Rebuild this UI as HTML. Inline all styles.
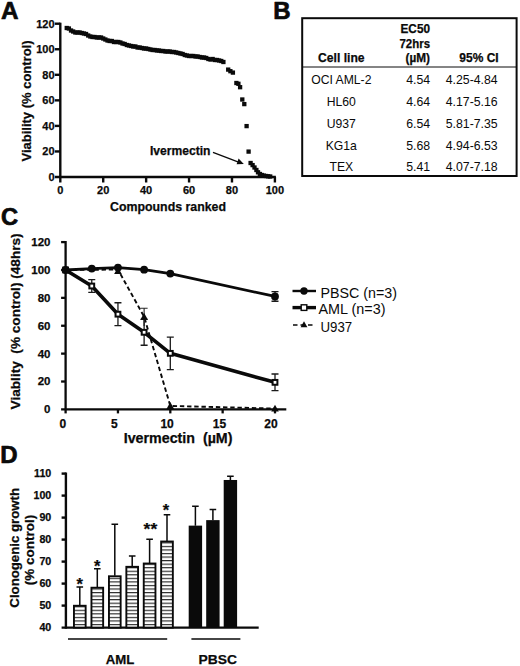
<!DOCTYPE html>
<html><head><meta charset="utf-8"><title>Figure</title>
<style>
html,body{margin:0;padding:0;background:#fff;}
body{width:520px;height:666px;overflow:hidden;}
svg{display:block;}
text{font-family:"Liberation Sans",sans-serif;fill:#0a0a0a;}
.b{font-weight:bold;stroke:#0a0a0a;stroke-width:0.25px;}
</style></head><body>
<svg width="520" height="666" viewBox="0 0 520 666">
<rect width="520" height="666" fill="#fff"/>
<text x="1.1" y="19.4" font-size="24.3" text-anchor="start" class="b" style="stroke-width:0.7px;stroke-linejoin:round">A</text>
<text x="273.3" y="18.7" font-size="24" text-anchor="start" class="b" style="stroke-width:0.7px;stroke-linejoin:round">B</text>
<text x="0.9" y="225.2" font-size="23.7" text-anchor="start" class="b" style="stroke-width:0.7px;stroke-linejoin:round">C</text>
<text x="0.3" y="462.8" font-size="24" text-anchor="start" class="b" style="stroke-width:0.7px;stroke-linejoin:round">D</text>
<g stroke="#0a0a0a" stroke-width="2.4" fill="none"><path d="M60.3 22.69999999999999 V182.5"/><path d="M54.8 177.0 H275.9"/><path d="M54.8 151.45 H60.3"/><path d="M54.8 125.90 H60.3"/><path d="M54.8 100.35 H60.3"/><path d="M54.8 74.80 H60.3"/><path d="M54.8 49.25 H60.3"/><path d="M54.8 23.70 H60.3"/><path d="M103.22 177.0 V182.5"/><path d="M146.14 177.0 V182.5"/><path d="M189.06 177.0 V182.5"/><path d="M231.98 177.0 V182.5"/><path d="M274.90 177.0 V182.5"/></g>
<text x="54.6" y="180.9" font-size="11" text-anchor="end" class="b" >0</text>
<text x="54.6" y="155.35" font-size="11" text-anchor="end" class="b" >20</text>
<text x="54.6" y="129.8" font-size="11" text-anchor="end" class="b" >40</text>
<text x="54.6" y="104.25" font-size="11" text-anchor="end" class="b" >60</text>
<text x="54.6" y="78.7" font-size="11" text-anchor="end" class="b" >80</text>
<text x="54.6" y="53.15" font-size="11" text-anchor="end" class="b" >100</text>
<text x="54.6" y="27.6" font-size="11" text-anchor="end" class="b" >120</text>
<text x="60.3" y="194.4" font-size="11" text-anchor="middle" class="b" >0</text>
<text x="103.22" y="194.4" font-size="11" text-anchor="middle" class="b" >20</text>
<text x="146.14" y="194.4" font-size="11" text-anchor="middle" class="b" >40</text>
<text x="189.06" y="194.4" font-size="11" text-anchor="middle" class="b" >60</text>
<text x="231.98" y="194.4" font-size="11" text-anchor="middle" class="b" >80</text>
<text x="274.9" y="194.4" font-size="11" text-anchor="middle" class="b" >100</text>
<text x="168" y="211.1" font-size="12.5" text-anchor="middle" class="b" textLength="116" lengthAdjust="spacingAndGlyphs" >Compounds ranked</text>
<text transform="translate(31.2,101) rotate(-90)" font-size="13" text-anchor="middle" class="b" textLength="121" lengthAdjust="spacingAndGlyphs">Viability (% control)</text>
<text x="150" y="155.2" font-size="12" text-anchor="start" class="b" textLength="60.5" lengthAdjust="spacingAndGlyphs" >Ivermectin</text>
<path d="M213 152.3 L240.5 162.8" stroke="#0a0a0a" stroke-width="1.3" fill="none"/><path d="M243.8 163.9 L236.6 164.2 L238.6 158.6 Z" fill="#0a0a0a"/>
<g fill="#0a0a0a"><rect x="64.59" y="25.85" width="4.3" height="4.3"/><rect x="66.73" y="26.35" width="4.3" height="4.3"/><rect x="68.88" y="28.35" width="4.3" height="4.3"/><rect x="71.03" y="29.35" width="4.3" height="4.3"/><rect x="73.17" y="30.35" width="4.3" height="4.3"/><rect x="75.32" y="30.35" width="4.3" height="4.3"/><rect x="77.46" y="30.35" width="4.3" height="4.3"/><rect x="79.61" y="30.85" width="4.3" height="4.3"/><rect x="81.76" y="31.35" width="4.3" height="4.3"/><rect x="83.90" y="31.85" width="4.3" height="4.3"/><rect x="86.05" y="33.35" width="4.3" height="4.3"/><rect x="88.19" y="34.35" width="4.3" height="4.3"/><rect x="90.34" y="34.85" width="4.3" height="4.3"/><rect x="92.49" y="34.85" width="4.3" height="4.3"/><rect x="94.63" y="35.35" width="4.3" height="4.3"/><rect x="96.78" y="35.35" width="4.3" height="4.3"/><rect x="98.92" y="35.35" width="4.3" height="4.3"/><rect x="101.07" y="36.35" width="4.3" height="4.3"/><rect x="103.22" y="37.35" width="4.3" height="4.3"/><rect x="105.36" y="38.35" width="4.3" height="4.3"/><rect x="107.51" y="38.85" width="4.3" height="4.3"/><rect x="109.65" y="38.85" width="4.3" height="4.3"/><rect x="111.80" y="39.85" width="4.3" height="4.3"/><rect x="113.95" y="39.85" width="4.3" height="4.3"/><rect x="116.09" y="39.85" width="4.3" height="4.3"/><rect x="118.24" y="40.35" width="4.3" height="4.3"/><rect x="120.38" y="41.35" width="4.3" height="4.3"/><rect x="122.53" y="41.85" width="4.3" height="4.3"/><rect x="124.68" y="42.85" width="4.3" height="4.3"/><rect x="126.82" y="43.35" width="4.3" height="4.3"/><rect x="128.97" y="43.85" width="4.3" height="4.3"/><rect x="131.11" y="44.35" width="4.3" height="4.3"/><rect x="133.26" y="44.35" width="4.3" height="4.3"/><rect x="135.41" y="45.35" width="4.3" height="4.3"/><rect x="137.55" y="45.35" width="4.3" height="4.3"/><rect x="139.70" y="45.85" width="4.3" height="4.3"/><rect x="141.84" y="46.35" width="4.3" height="4.3"/><rect x="143.99" y="46.35" width="4.3" height="4.3"/><rect x="146.14" y="46.85" width="4.3" height="4.3"/><rect x="148.28" y="47.35" width="4.3" height="4.3"/><rect x="150.43" y="47.85" width="4.3" height="4.3"/><rect x="152.57" y="47.85" width="4.3" height="4.3"/><rect x="154.72" y="48.35" width="4.3" height="4.3"/><rect x="156.87" y="48.35" width="4.3" height="4.3"/><rect x="159.01" y="48.85" width="4.3" height="4.3"/><rect x="161.16" y="48.85" width="4.3" height="4.3"/><rect x="163.30" y="49.35" width="4.3" height="4.3"/><rect x="165.45" y="49.35" width="4.3" height="4.3"/><rect x="167.60" y="49.35" width="4.3" height="4.3"/><rect x="169.74" y="49.85" width="4.3" height="4.3"/><rect x="171.89" y="49.85" width="4.3" height="4.3"/><rect x="174.03" y="50.35" width="4.3" height="4.3"/><rect x="176.18" y="50.85" width="4.3" height="4.3"/><rect x="178.33" y="51.35" width="4.3" height="4.3"/><rect x="180.47" y="51.85" width="4.3" height="4.3"/><rect x="182.62" y="52.85" width="4.3" height="4.3"/><rect x="184.76" y="53.35" width="4.3" height="4.3"/><rect x="186.91" y="53.85" width="4.3" height="4.3"/><rect x="189.06" y="53.85" width="4.3" height="4.3"/><rect x="191.20" y="53.85" width="4.3" height="4.3"/><rect x="193.35" y="54.35" width="4.3" height="4.3"/><rect x="195.49" y="54.35" width="4.3" height="4.3"/><rect x="197.64" y="54.85" width="4.3" height="4.3"/><rect x="199.79" y="55.35" width="4.3" height="4.3"/><rect x="201.93" y="55.35" width="4.3" height="4.3"/><rect x="204.08" y="55.85" width="4.3" height="4.3"/><rect x="206.22" y="56.85" width="4.3" height="4.3"/><rect x="208.37" y="57.35" width="4.3" height="4.3"/><rect x="210.52" y="56.85" width="4.3" height="4.3"/><rect x="212.66" y="57.85" width="4.3" height="4.3"/><rect x="214.81" y="57.85" width="4.3" height="4.3"/><rect x="216.95" y="58.35" width="4.3" height="4.3"/><rect x="219.10" y="58.85" width="4.3" height="4.3"/><rect x="221.25" y="59.85" width="4.3" height="4.3"/><rect x="226.05" y="67.45" width="4.3" height="4.3"/><rect x="228.25" y="69.05" width="4.3" height="4.3"/><rect x="230.75" y="70.45" width="4.3" height="4.3"/><rect x="234.25" y="80.85" width="4.3" height="4.3"/><rect x="236.25" y="81.65" width="4.3" height="4.3"/><rect x="237.95" y="85.05" width="4.3" height="4.3"/><rect x="240.15" y="97.35" width="4.3" height="4.3"/><rect x="242.15" y="101.95" width="4.3" height="4.3"/><rect x="244.45" y="123.95" width="4.3" height="4.3"/><rect x="246.45" y="149.45" width="4.3" height="4.3"/><rect x="248.45" y="160.85" width="4.3" height="4.3"/><rect x="250.45" y="162.95" width="4.3" height="4.3"/><rect x="252.35" y="165.35" width="4.3" height="4.3"/><rect x="254.25" y="167.85" width="4.3" height="4.3"/><rect x="255.85" y="170.15" width="4.3" height="4.3"/><rect x="257.75" y="171.85" width="4.3" height="4.3"/><rect x="259.65" y="172.85" width="4.3" height="4.3"/><rect x="261.75" y="173.45" width="4.3" height="4.3"/><rect x="263.85" y="173.85" width="4.3" height="4.3"/><rect x="265.95" y="174.15" width="4.3" height="4.3"/><rect x="268.05" y="174.35" width="4.3" height="4.3"/></g>
<rect x="302.2" y="18.2" width="214.4" height="157.8" fill="none" stroke="#0a0a0a" stroke-width="2"/>
<path d="M302 67 H516.6" stroke="#0a0a0a" stroke-width="1"/>
<text x="341.3" y="62" font-size="12" text-anchor="middle" class="b" textLength="46.5" lengthAdjust="spacingAndGlyphs" >Cell line</text>
<text x="430" y="32.5" font-size="12" text-anchor="end" class="b" textLength="29.5" lengthAdjust="spacingAndGlyphs" >EC50</text>
<text x="430" y="47.5" font-size="12" text-anchor="end" class="b" textLength="30.5" lengthAdjust="spacingAndGlyphs" >72hrs</text>
<text x="430" y="62" font-size="12" text-anchor="end" class="b" textLength="24.5" lengthAdjust="spacingAndGlyphs" >(µM)</text>
<text x="479" y="62" font-size="12" text-anchor="middle" class="b" textLength="39.3" lengthAdjust="spacingAndGlyphs" >95% CI</text>
<text x="341.3" y="83.8" font-size="12.2" text-anchor="middle" >OCI AML-2</text>
<text x="430.2" y="83.8" font-size="12.3" text-anchor="end" >4.54</text>
<text x="497.7" y="83.8" font-size="12.3" text-anchor="end" >4.25-4.84</text>
<text x="341.3" y="105.8" font-size="12.2" text-anchor="middle" >HL60</text>
<text x="430.2" y="105.8" font-size="12.3" text-anchor="end" >4.64</text>
<text x="497.7" y="105.8" font-size="12.3" text-anchor="end" >4.17-5.16</text>
<text x="341.3" y="127.9" font-size="12.2" text-anchor="middle" >U937</text>
<text x="430.2" y="127.9" font-size="12.3" text-anchor="end" >6.54</text>
<text x="497.7" y="127.9" font-size="12.3" text-anchor="end" >5.81-7.35</text>
<text x="341.3" y="150.0" font-size="12.2" text-anchor="middle" >KG1a</text>
<text x="430.2" y="150.0" font-size="12.3" text-anchor="end" >5.68</text>
<text x="497.7" y="150.0" font-size="12.3" text-anchor="end" >4.94-6.53</text>
<text x="341.3" y="171.2" font-size="12.2" text-anchor="middle" >TEX</text>
<text x="430.2" y="171.2" font-size="12.3" text-anchor="end" >5.41</text>
<text x="497.7" y="171.2" font-size="12.3" text-anchor="end" >4.07-7.18</text>
<g stroke="#0a0a0a" stroke-width="2.3" fill="none"><path d="M65.6 241.0 V413.4"/><path d="M61.099999999999994 409.4 H286.3"/><path d="M61.099999999999994 381.52 H65.6"/><path d="M61.099999999999994 353.63 H65.6"/><path d="M61.099999999999994 325.75 H65.6"/><path d="M61.099999999999994 297.87 H65.6"/><path d="M61.099999999999994 269.98 H65.6"/><path d="M61.099999999999994 242.10 H65.6"/><path d="M117.95 409.4 V413.4"/><path d="M170.30 409.4 V413.4"/><path d="M222.65 409.4 V413.4"/><path d="M275.00 409.4 V413.4"/></g>
<text x="50.5" y="413.3" font-size="11.5" text-anchor="end" class="b" >0</text>
<text x="50.5" y="385.42" font-size="11.5" text-anchor="end" class="b" >20</text>
<text x="50.5" y="357.53" font-size="11.5" text-anchor="end" class="b" >40</text>
<text x="50.5" y="329.65" font-size="11.5" text-anchor="end" class="b" >60</text>
<text x="50.5" y="301.77" font-size="11.5" text-anchor="end" class="b" >80</text>
<text x="50.5" y="273.88" font-size="11.5" text-anchor="end" class="b" >100</text>
<text x="50.5" y="246.0" font-size="11.5" text-anchor="end" class="b" >120</text>
<text x="62.8" y="427.8" font-size="12" text-anchor="middle" class="b" >0</text>
<text x="114.35" y="427.8" font-size="12" text-anchor="middle" class="b" >5</text>
<text x="167.1" y="427.8" font-size="12" text-anchor="middle" class="b" >10</text>
<text x="219.45" y="427.8" font-size="12" text-anchor="middle" class="b" >15</text>
<text x="271.0" y="427.8" font-size="12" text-anchor="middle" class="b" >20</text>
<text x="178.1" y="443.2" font-size="14" text-anchor="middle" class="b" textLength="108.8" lengthAdjust="spacingAndGlyphs" >Ivermectin&#160;&#160;(µM)</text>
<text transform="translate(19.8,321.4) rotate(-90)" font-size="13.5" text-anchor="middle" class="b" textLength="176" lengthAdjust="spacingAndGlyphs">Viablity&#160;&#160;(% control) (48hrs)</text>
<path d="M65.60 269.98 L117.95 269.57 L144.12 316.69 L170.30 405.91 L275.00 408.56" stroke="#0a0a0a" stroke-width="1.9" fill="none" stroke-dasharray="4.4 2.8"/>
<path d="M144.12 308.2 V326 M140.62 308.2 h7" stroke="#2a2a2a" stroke-width="1.15" fill="none"/>
<path d="M91.77 279.60 V292.43 M88.27 279.60 h7.0 M88.27 292.43 h7.0" stroke="#1a1a1a" stroke-width="1.3" fill="none"/>
<path d="M117.95 302.75 V325.61 M114.45 302.75 h7.0 M114.45 325.61 h7.0" stroke="#1a1a1a" stroke-width="1.3" fill="none"/>
<path d="M144.12 319.34 V345.27 M140.62 319.34 h7.0 M140.62 345.27 h7.0" stroke="#1a1a1a" stroke-width="1.3" fill="none"/>
<path d="M170.30 337.04 V369.67 M166.80 337.04 h7.0 M166.80 369.67 h7.0" stroke="#1a1a1a" stroke-width="1.3" fill="none"/>
<path d="M275.00 373.99 V390.72 M271.50 373.99 h7.0 M271.50 390.72 h7.0" stroke="#1a1a1a" stroke-width="1.3" fill="none"/>
<path d="M275.00 291.67 V301.27 M271.50 291.67 h7 M271.50 301.27 h7" stroke="#1a1a1a" stroke-width="1.3" fill="none"/>
<path d="M65.60 269.98 L91.77 286.02 L117.95 314.18 L144.12 332.30 L170.30 353.35 L275.00 382.35" stroke="#0a0a0a" stroke-width="3.6" fill="none" stroke-linejoin="round"/>
<rect x="63.20" y="267.58" width="4.8" height="4.8" fill="#0a0a0a" stroke="#0a0a0a" stroke-width="2"/><rect x="89.37" y="283.62" width="4.8" height="4.8" fill="#fff" stroke="#0a0a0a" stroke-width="2"/><rect x="115.55" y="311.78" width="4.8" height="4.8" fill="#fff" stroke="#0a0a0a" stroke-width="2"/><rect x="141.72" y="329.90" width="4.8" height="4.8" fill="#fff" stroke="#0a0a0a" stroke-width="2"/><rect x="167.90" y="350.95" width="4.8" height="4.8" fill="#fff" stroke="#0a0a0a" stroke-width="2"/><rect x="272.60" y="379.95" width="4.8" height="4.8" fill="#fff" stroke="#0a0a0a" stroke-width="2"/><path d="M65.60 269.98 L91.77 268.59 L117.95 267.61 L144.12 269.70 L170.30 273.61 L275.00 296.47" stroke="#0a0a0a" stroke-width="2.8" fill="none" stroke-linejoin="round"/>
<circle cx="65.60" cy="269.98" r="3.9" fill="#0a0a0a"/><circle cx="91.77" cy="268.59" r="3.9" fill="#0a0a0a"/><circle cx="117.95" cy="267.61" r="3.9" fill="#0a0a0a"/><circle cx="144.12" cy="269.70" r="3.9" fill="#0a0a0a"/><circle cx="170.30" cy="273.61" r="3.9" fill="#0a0a0a"/><circle cx="275.00" cy="296.47" r="3.9" fill="#0a0a0a"/><path d="M117.95 267.27 L121.75 274.11 L114.15 274.11 Z" fill="#0a0a0a"/><path d="M144.12 312.89 L147.93 319.73 L140.32 319.73 Z" fill="#0a0a0a"/><path d="M170.30 402.11 L174.10 408.95 L166.50 408.95 Z" fill="#0a0a0a"/><path d="M275.00 404.76 L278.80 411.60 L271.20 411.60 Z" fill="#0a0a0a"/>
<path d="M292.5 291 H316" stroke="#0a0a0a" stroke-width="2.4"/><circle cx="304" cy="291" r="3.7" fill="#0a0a0a"/>
<path d="M292.5 307.6 H316" stroke="#0a0a0a" stroke-width="3.4"/><rect x="301.2" y="304.8" width="5.6" height="5.6" fill="#fff" stroke="#0a0a0a" stroke-width="1.4"/>
<path d="M293 325 H315" stroke="#0a0a0a" stroke-width="1.6" stroke-dasharray="4.5 3"/><path d="M304.00 321.20 L307.40 327.32 L300.60 327.32 Z" fill="#0a0a0a"/><text x="320.5" y="297.5" font-size="14" text-anchor="start" textLength="76.5" lengthAdjust="spacingAndGlyphs" >PBSC (n=3)</text>
<text x="318.5" y="314" font-size="14" text-anchor="start" textLength="67" lengthAdjust="spacingAndGlyphs" >AML (n=3)</text>
<text x="320.5" y="332" font-size="14" text-anchor="start" textLength="31.7" lengthAdjust="spacingAndGlyphs" >U937</text>
<defs><pattern id="hs" width="4" height="3.55" patternUnits="userSpaceOnUse" y="627.5"><rect width="4" height="3.55" fill="#fff"/><rect y="0" width="4" height="1.15" fill="#2a2a2a"/></pattern></defs>
<g stroke="#0a0a0a" stroke-width="2.4" fill="none"><path d="M65.9 472.5 V628.7"/><path d="M61.60000000000001 627.6 H258.7"/><path d="M61.60000000000001 605.60 H65.9"/><path d="M61.60000000000001 583.60 H65.9"/><path d="M61.60000000000001 561.60 H65.9"/><path d="M61.60000000000001 539.60 H65.9"/><path d="M61.60000000000001 517.60 H65.9"/><path d="M61.60000000000001 495.60 H65.9"/><path d="M61.60000000000001 473.60 H65.9"/></g>
<text x="51.3" y="631.4" font-size="10.7" text-anchor="end" class="b" >40</text>
<text x="51.3" y="609.4" font-size="10.7" text-anchor="end" class="b" >50</text>
<text x="51.3" y="587.4" font-size="10.7" text-anchor="end" class="b" >60</text>
<text x="51.3" y="565.4" font-size="10.7" text-anchor="end" class="b" >70</text>
<text x="51.3" y="543.4" font-size="10.7" text-anchor="end" class="b" >80</text>
<text x="51.3" y="521.4" font-size="10.7" text-anchor="end" class="b" >90</text>
<text x="51.3" y="499.4" font-size="10.7" text-anchor="end" class="b" >100</text>
<text x="51.3" y="477.4" font-size="10.7" text-anchor="end" class="b" >110</text>
<text transform="translate(19.4,547.8) rotate(-90)" font-size="13" text-anchor="middle" class="b" textLength="119.7" lengthAdjust="spacingAndGlyphs">Clonogenic growth</text>
<text transform="translate(33.6,550) rotate(-90)" font-size="13" text-anchor="middle" class="b" textLength="70.3" lengthAdjust="spacingAndGlyphs">(% control)</text>
<path d="M79.80 605.16 V587 M76.50 587 h6.6" stroke="#0a0a0a" stroke-width="1.5" fill="none"/><rect x="73.95" y="605.76" width="11.7" height="21.84" fill="url(#hs)" stroke="#0a0a0a" stroke-width="1.9"/>
<path d="M97.30 587.12 V568.8 M94.00 568.8 h6.6" stroke="#0a0a0a" stroke-width="1.5" fill="none"/><rect x="91.45" y="587.72" width="11.7" height="39.88" fill="url(#hs)" stroke="#0a0a0a" stroke-width="1.9"/>
<path d="M114.80 575.68 V524.2 M111.50 524.2 h6.6" stroke="#0a0a0a" stroke-width="1.5" fill="none"/><rect x="108.95" y="576.28" width="11.7" height="51.32" fill="url(#hs)" stroke="#0a0a0a" stroke-width="1.9"/>
<path d="M132.20 566.22 V556 M128.90 556 h6.6" stroke="#0a0a0a" stroke-width="1.5" fill="none"/><rect x="126.35" y="566.82" width="11.7" height="60.78" fill="url(#hs)" stroke="#0a0a0a" stroke-width="1.9"/>
<path d="M149.60 562.92 V539.3 M146.30 539.3 h6.6" stroke="#0a0a0a" stroke-width="1.5" fill="none"/><rect x="143.75" y="563.52" width="11.7" height="64.08" fill="url(#hs)" stroke="#0a0a0a" stroke-width="1.9"/>
<path d="M167.00 540.92 V514.8 M163.70 514.8 h6.6" stroke="#0a0a0a" stroke-width="1.5" fill="none"/><rect x="161.15" y="541.52" width="11.7" height="86.08" fill="url(#hs)" stroke="#0a0a0a" stroke-width="1.9"/>
<path d="M195.40 525.63 V506.2 M192.10 506.2 h6.6" stroke="#0a0a0a" stroke-width="1.5" fill="none"/><rect x="188.70" y="525.63" width="13.4" height="101.97" fill="#0a0a0a"/>
<path d="M212.90 520.13 V509.4 M209.60 509.4 h6.6" stroke="#0a0a0a" stroke-width="1.5" fill="none"/><rect x="206.20" y="520.13" width="13.4" height="107.47" fill="#0a0a0a"/>
<path d="M230.40 479.98 V476.2 M227.10 476.2 h6.6" stroke="#0a0a0a" stroke-width="1.5" fill="none"/><rect x="223.70" y="479.98" width="13.4" height="147.62" fill="#0a0a0a"/>
<text x="79.6" y="589.8" font-size="16.5" text-anchor="middle" class="b" >*</text>
<text x="97.3" y="572.4" font-size="16.5" text-anchor="middle" class="b" >*</text>
<text x="150.4" y="535.2" font-size="16.5" text-anchor="middle" class="b" textLength="13.6" lengthAdjust="spacingAndGlyphs" >**</text>
<text x="166.0" y="515.7" font-size="16.5" text-anchor="middle" class="b" >*</text>
<path d="M68 639 H167.2 M191.4 639 H240.4" stroke="#0a0a0a" stroke-width="1.5"/>
<text x="120" y="663.6" font-size="13.5" text-anchor="middle" class="b" textLength="28.6" lengthAdjust="spacingAndGlyphs" >AML</text>
<text x="217.7" y="663.6" font-size="13.5" text-anchor="middle" class="b" textLength="38.5" lengthAdjust="spacingAndGlyphs" >PBSC</text>
</svg>
</body></html>
